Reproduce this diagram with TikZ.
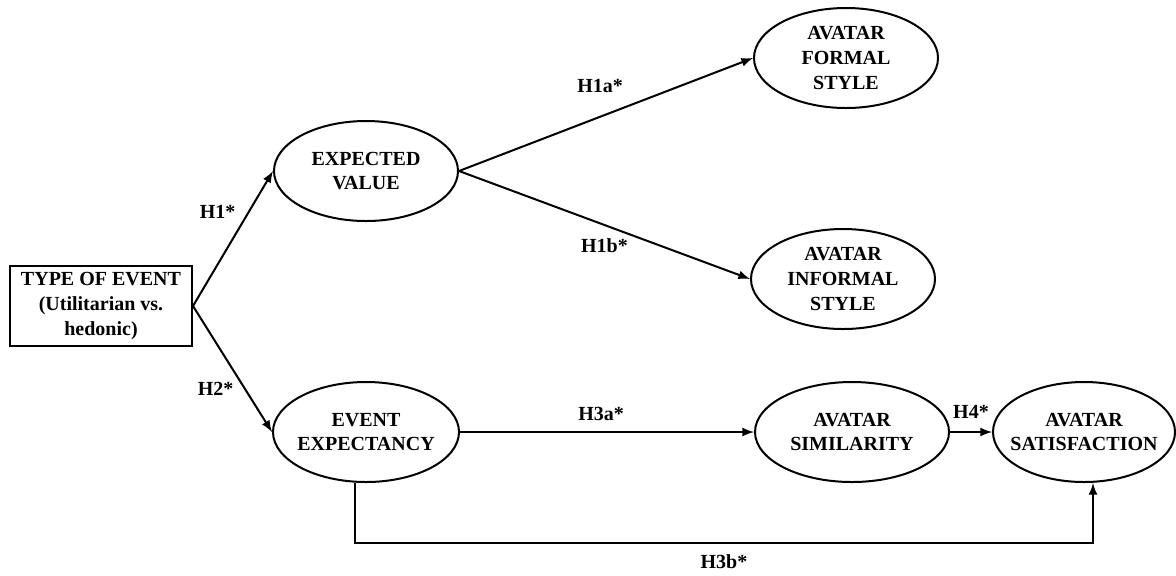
\documentclass[tikz,border=0pt]{standalone}
\usepackage{fontspec}
\setmainfont{Liberation Serif}
\usepackage{tikz}
\usetikzlibrary{shapes.geometric}

\tikzset{
    construct/.style={ellipse, draw, line width=1pt, minimum width=92pt, minimum height=50pt,
        inner xsep=-8pt, inner ysep=-3pt, align=center, font=\fontsize{10}{12.3}\selectfont\bfseries},
    eventbox/.style={rectangle, draw, line width=1pt, minimum width=91pt, minimum height=40pt,
        inner sep=2pt, align=center, font=\fontsize{10}{12.3}\selectfont\bfseries},
    arr/.style={-latex, line width=1pt},
    hyp/.style={font=\fontsize{10}{12}\selectfont\bfseries}
}

\begin{document}
\begin{tikzpicture}[x=0.5pt, y=-0.5pt]
        \useasboundingbox (0,0) rectangle (1176,575);

        \node[eventbox] (type) at (101,306) {TYPE OF EVENT\\(Utilitarian vs.\\hedonic)};
        \node[construct] (ev) at (366,171) {EXPECTED\\VALUE};
        \node[construct, minimum width=93pt] (ee) at (366,432) {EVENT\\EXPECTANCY};
        \node[construct] (formal) at (846,58) {AVATAR\\FORMAL\\STYLE};
        \node[construct] (informal) at (843,279) {AVATAR\\INFORMAL\\STYLE};
        \node[construct, minimum width=97pt] (sim) at (852,432) {AVATAR\\SIMILARITY};
        \node[construct, minimum width=91pt] (sat) at (1084,432) {AVATAR\\SATISFACTION};
        \coordinate (bot) at (0,543);

        \draw[arr] (type.east) -- node[hyp, pos=0.7, left=3pt] {H1*} (ev.west);
        \draw[arr] (type.east) -- node[hyp, pos=0.66, left=2pt] {H2*} (ee.west);
        \draw[arr] (ev.east) -- node[hyp, pos=0.48, above=8pt] {H1a*} (formal.west);
        \draw[arr] (ev.east) -- node[hyp, pos=0.5, below=3pt] {H1b*} (informal.west);
        \draw[arr] (ee.east) -- node[hyp, pos=0.48, above=2pt] {H3a*} (sim.west);
        \draw[arr] (sim.east) -- node[hyp, above=3pt] {H4*} (sat.west);
        \draw[arr] ([xshift=-5.5pt]ee.south) -- ([xshift=-5.5pt]ee.south |- bot)
            -| node[hyp, pos=0.25, below=2pt] {H3b*} ([xshift=4.5pt]sat.south);
    \end{tikzpicture}
\end{document}
